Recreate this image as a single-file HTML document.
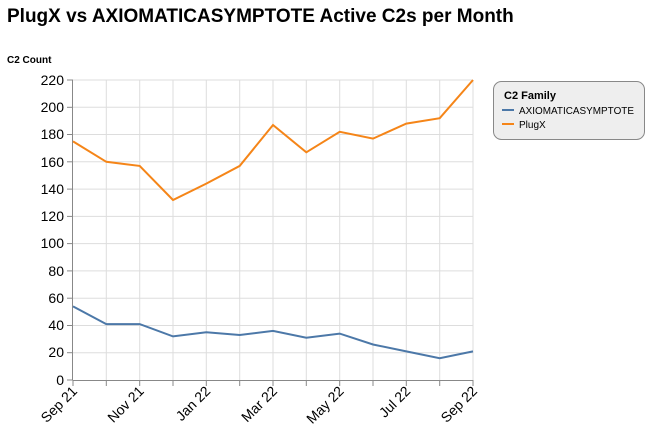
<!DOCTYPE html><html><head><style>body{margin:0;background:#fff}</style></head><body>
<svg width="651" height="438" xmlns="http://www.w3.org/2000/svg" font-family="Liberation Sans, Arial, sans-serif">
<text x="7" y="22" font-size="19" font-weight="bold" fill="#000">PlugX vs AXIOMATICASYMPTOTE Active C2s per Month</text>
<text x="7" y="63" font-size="10" font-weight="bold">C2 Count</text>
<g stroke="#ddd" stroke-width="1">
<line x1="73" x2="473" y1="80" y2="80"/><line x1="73" x2="473" y1="107.3" y2="107.3"/><line x1="73" x2="473" y1="134.5" y2="134.5"/><line x1="73" x2="473" y1="161.8" y2="161.8"/><line x1="73" x2="473" y1="189.1" y2="189.1"/><line x1="73" x2="473" y1="216.4" y2="216.4"/><line x1="73" x2="473" y1="243.6" y2="243.6"/><line x1="73" x2="473" y1="270.9" y2="270.9"/><line x1="73" x2="473" y1="298.2" y2="298.2"/><line x1="73" x2="473" y1="325.5" y2="325.5"/><line x1="73" x2="473" y1="352.7" y2="352.7"/>
<line y1="80" y2="380" x1="106.3" x2="106.3"/><line y1="80" y2="380" x1="139.7" x2="139.7"/><line y1="80" y2="380" x1="173" x2="173"/><line y1="80" y2="380" x1="206.3" x2="206.3"/><line y1="80" y2="380" x1="239.7" x2="239.7"/><line y1="80" y2="380" x1="273" x2="273"/><line y1="80" y2="380" x1="306.3" x2="306.3"/><line y1="80" y2="380" x1="339.7" x2="339.7"/><line y1="80" y2="380" x1="373" x2="373"/><line y1="80" y2="380" x1="406.3" x2="406.3"/><line y1="80" y2="380" x1="439.7" x2="439.7"/><line y1="80" y2="380" x1="473" x2="473"/>
</g>
<g stroke="#888"><line x1="72.5" x2="72.5" y1="80" y2="380"/><line x1="72.5" x2="473" y1="380.5" y2="380.5"/>
<g><line x1="67" x2="73" y1="80" y2="80"/><line x1="67" x2="73" y1="107.3" y2="107.3"/><line x1="67" x2="73" y1="134.5" y2="134.5"/><line x1="67" x2="73" y1="161.8" y2="161.8"/><line x1="67" x2="73" y1="189.1" y2="189.1"/><line x1="67" x2="73" y1="216.4" y2="216.4"/><line x1="67" x2="73" y1="243.6" y2="243.6"/><line x1="67" x2="73" y1="270.9" y2="270.9"/><line x1="67" x2="73" y1="298.2" y2="298.2"/><line x1="67" x2="73" y1="325.5" y2="325.5"/><line x1="67" x2="73" y1="352.7" y2="352.7"/><line x1="67" x2="73" y1="380" y2="380"/></g>
<g><line y1="380" y2="386" x1="73" x2="73"/><line y1="380" y2="386" x1="106.3" x2="106.3"/><line y1="380" y2="386" x1="139.7" x2="139.7"/><line y1="380" y2="386" x1="173" x2="173"/><line y1="380" y2="386" x1="206.3" x2="206.3"/><line y1="380" y2="386" x1="239.7" x2="239.7"/><line y1="380" y2="386" x1="273" x2="273"/><line y1="380" y2="386" x1="306.3" x2="306.3"/><line y1="380" y2="386" x1="339.7" x2="339.7"/><line y1="380" y2="386" x1="373" x2="373"/><line y1="380" y2="386" x1="406.3" x2="406.3"/><line y1="380" y2="386" x1="439.7" x2="439.7"/><line y1="380" y2="386" x1="473" x2="473"/></g></g>
<g font-size="14" text-anchor="end" fill="#000">
<text x="64" y="85">220</text><text x="64" y="112">200</text><text x="64" y="139">180</text><text x="64" y="167">160</text><text x="64" y="194">140</text><text x="64" y="221">120</text><text x="64" y="248">100</text><text x="64" y="276">80</text><text x="64" y="303">60</text><text x="64" y="330">40</text><text x="64" y="357">20</text><text x="64" y="385">0</text>
<text transform="translate(78,392) rotate(-45)">Sep 21</text><text transform="translate(144.7,392) rotate(-45)">Nov 21</text><text transform="translate(211.3,392) rotate(-45)">Jan 22</text><text transform="translate(278,392) rotate(-45)">Mar 22</text><text transform="translate(344.7,392) rotate(-45)">May 22</text><text transform="translate(411.3,392) rotate(-45)">Jul 22</text><text transform="translate(478,392) rotate(-45)">Sep 22</text>
</g>
<polyline fill="none" stroke="#f58518" stroke-width="2" points="73,141.4 106.3,161.8 139.7,165.9 173,200 206.3,183.6 239.7,165.9 273,125 306.3,152.3 339.7,131.8 373,138.6 406.3,123.6 439.7,118.2 473,80"/>
<polyline fill="none" stroke="#4c78a8" stroke-width="2" points="73,306.4 106.3,324.1 139.7,324.1 173,336.4 206.3,332.3 239.7,335 273,330.9 306.3,337.7 339.7,333.6 373,344.5 406.3,351.4 439.7,358.2 473,351.4"/>
<rect x="493.5" y="81.5" width="151" height="58" rx="8" fill="#eee" stroke="#888"/>
<text x="504" y="99" font-size="11" font-weight="bold">C2 Family</text>
<line x1="502" x2="514" y1="110" y2="110" stroke="#4c78a8" stroke-width="2"/><text x="519" y="114" font-size="10" textLength="115" lengthAdjust="spacingAndGlyphs">AXIOMATICASYMPTOTE</text>
<line x1="502" x2="514" y1="124" y2="124" stroke="#f58518" stroke-width="2"/><text x="519" y="128" font-size="10">PlugX</text>
</svg></body></html>
